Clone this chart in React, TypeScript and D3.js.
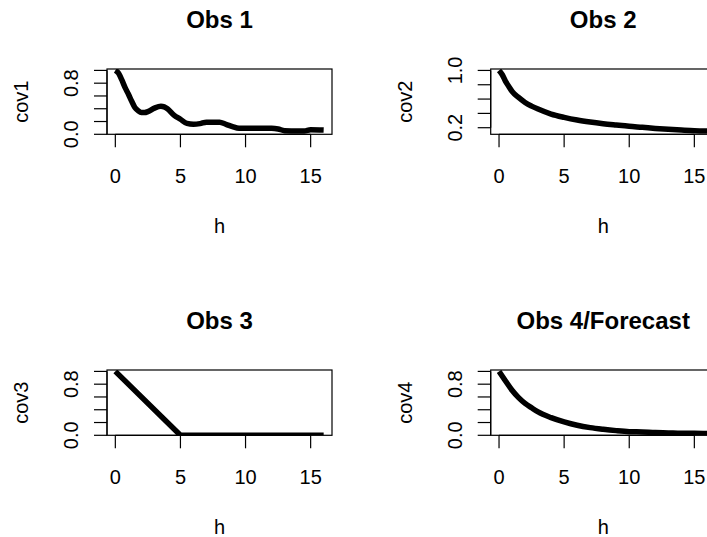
import React from "react";
import * as d3 from "d3";

// ---- data ----
const H1 = [0, 0.25, 0.5, 0.75, 1, 1.25, 1.5, 1.75, 2, 2.25, 2.5, 3, 3.5, 3.75, 4, 4.5, 5, 5.5, 6, 6.5, 7, 7.5, 8, 8.5, 9, 9.5, 10, 11, 12, 12.5, 13, 14, 14.5, 15, 16];
const COV1 = [1.0, 0.955, 0.85, 0.73, 0.63, 0.52, 0.42, 0.37, 0.34, 0.34, 0.355, 0.41, 0.44, 0.43, 0.4, 0.3, 0.235, 0.17, 0.157, 0.167, 0.19, 0.19, 0.188, 0.157, 0.12, 0.094, 0.094, 0.094, 0.094, 0.084, 0.057, 0.052, 0.052, 0.073, 0.068];

const H2 = [0, 0.25, 0.5, 0.75, 1, 1.5, 2, 2.5, 3, 4, 5, 6, 7, 8, 9, 10, 11, 12, 13, 14, 15, 16];
const COV2 = [1.0, 0.94, 0.846, 0.777, 0.707, 0.623, 0.553, 0.502, 0.46, 0.39, 0.344, 0.307, 0.279, 0.256, 0.237, 0.219, 0.205, 0.19, 0.177, 0.167, 0.158, 0.153];

const H3 = [0, 5, 16];
const COV3 = [1.0, 0.0, 0.0];

const H4 = [0, 0.5, 1, 1.5, 2, 2.5, 3, 4, 5, 6, 7, 8, 9, 10, 11, 12, 13, 14, 15, 16];
const COV4 = [1.0, 0.85, 0.705, 0.59, 0.5, 0.43, 0.365, 0.277, 0.21, 0.157, 0.12, 0.094, 0.073, 0.057, 0.052, 0.042, 0.037, 0.031, 0.031, 0.026];

const TITLES = ["Obs 1", "Obs 2", "Obs 3", "Obs 4/Forecast"];
const Y_NAMES = ["cov1", "cov2", "cov3", "cov4"];
const X_LABEL = "h";
const X_DOMAIN = [-0.64, 16.64];
const X_TICKS = [0, 5, 10, 15];
const Y_TICKS_FULL = [0, 0.2, 0.4, 0.6, 0.8, 1.0];
const Y_TICKS_COV2 = [0.2, 0.4, 0.6, 0.8, 1.0];
const Y_LABELED_FULL = [0, 0.8];
const Y_LABELED_COV2 = [0.2, 1.0];
const Y_DOMAIN_FULL = [0, 1.022];
const Y_DOMAIN_COV2 = [0.108, 1.02];

// ---- layout ----
const W = 707;
const H = 537;
const COL_LEFT = [107, 490.7];
const ROW_TOP = [69, 370];
const BOX_W = 225;
const BOX_H = 65.3;
const FONT = "'Liberation Sans', Arial, sans-serif";

type PanelProps = {
  idx: number;
  hs: number[];
  vs: number[];
  yDomain: number[];
  yTicks: number[];
  yLabeled: number[];
  curve: d3.CurveFactory;
};

function Panel({ idx, hs, vs, yDomain, yTicks, yLabeled, curve }: PanelProps) {
  const left = COL_LEFT[idx % 2];
  const top = ROW_TOP[Math.floor(idx / 2)];
  const x = d3.scaleLinear().domain(X_DOMAIN).range([left, left + BOX_W]);
  const y = d3.scaleLinear().domain(yDomain).range([top + BOX_H, top]);
  const pts: [number, number][] = hs.map((h, i) => [h, vs[i]]);
  const line = d3
    .line<[number, number]>()
    .x((d) => x(d[0]))
    .y((d) => y(d[1]))
    .curve(curve);
  const fmt = d3.format(".1f");
  const clipId = `clip${idx}`;
  const bottom = top + BOX_H;
  const cx = left + BOX_W / 2;
  const cy = top + BOX_H / 2;
  return (
    <g>
      <defs>
        <clipPath id={clipId}>
          <rect x={left} y={top} width={BOX_W} height={BOX_H} />
        </clipPath>
      </defs>
      <text x={cx} y={top - 41} textAnchor="middle" fontFamily={FONT} fontWeight="bold" fontSize={24} fill="#000">
        {TITLES[idx]}
      </text>
      <path d={line(pts) || ""} fill="none" stroke="#000" strokeWidth={5.5} strokeLinejoin="round" clipPath={`url(#${clipId})`} />
      <rect x={left} y={top} width={BOX_W} height={BOX_H} fill="none" stroke="#000" strokeWidth={1.2} />
      {/* x axis */}
      <line x1={x(X_TICKS[0])} x2={x(X_TICKS[X_TICKS.length - 1])} y1={bottom} y2={bottom} stroke="#000" strokeWidth={1.2} />
      {X_TICKS.map((t) => (
        <g key={`xt${t}`}>
          <line x1={x(t)} x2={x(t)} y1={bottom} y2={bottom + 13} stroke="#000" strokeWidth={1.2} />
          <text x={x(t)} y={bottom + 49} textAnchor="middle" fontFamily={FONT} fontSize={20} fill="#000">
            {t}
          </text>
        </g>
      ))}
      <text x={cx} y={bottom + 99} textAnchor="middle" fontFamily={FONT} fontSize={20} fill="#000">
        {X_LABEL}
      </text>
      {/* y axis */}
      <line x1={left} x2={left} y1={y(yTicks[0])} y2={y(yTicks[yTicks.length - 1])} stroke="#000" strokeWidth={1.2} />
      {yTicks.map((t) => (
        <line key={`yt${t}`} x1={left - 13} x2={left} y1={y(t)} y2={y(t)} stroke="#000" strokeWidth={1.2} />
      ))}
      {yLabeled.map((t) => (
        <text
          key={`yl${t}`}
          transform={`translate(${left - 29},${y(t)}) rotate(-90)`}
          textAnchor="middle"
          fontFamily={FONT}
          fontSize={20}
          fill="#000"
        >
          {fmt(t)}
        </text>
      ))}
      <text transform={`translate(${left - 79},${cy}) rotate(-90)`} textAnchor="middle" fontFamily={FONT} fontSize={20} fill="#000">
        {Y_NAMES[idx]}
      </text>
    </g>
  );
}

export default function App() {
  return (
    <svg width={W} height={H} style={{ position: "absolute", left: 0, top: 0, background: "#fff" }}>
      <rect x={0} y={0} width={W} height={H} fill="#fff" />
      <Panel idx={0} hs={H1} vs={COV1} yDomain={Y_DOMAIN_FULL} yTicks={Y_TICKS_FULL} yLabeled={Y_LABELED_FULL} curve={d3.curveMonotoneX} />
      <Panel idx={1} hs={H2} vs={COV2} yDomain={Y_DOMAIN_COV2} yTicks={Y_TICKS_COV2} yLabeled={Y_LABELED_COV2} curve={d3.curveMonotoneX} />
      <Panel idx={2} hs={H3} vs={COV3} yDomain={Y_DOMAIN_FULL} yTicks={Y_TICKS_FULL} yLabeled={Y_LABELED_FULL} curve={d3.curveLinear} />
      <Panel idx={3} hs={H4} vs={COV4} yDomain={Y_DOMAIN_FULL} yTicks={Y_TICKS_FULL} yLabeled={Y_LABELED_FULL} curve={d3.curveMonotoneX} />
    </svg>
  );
}
